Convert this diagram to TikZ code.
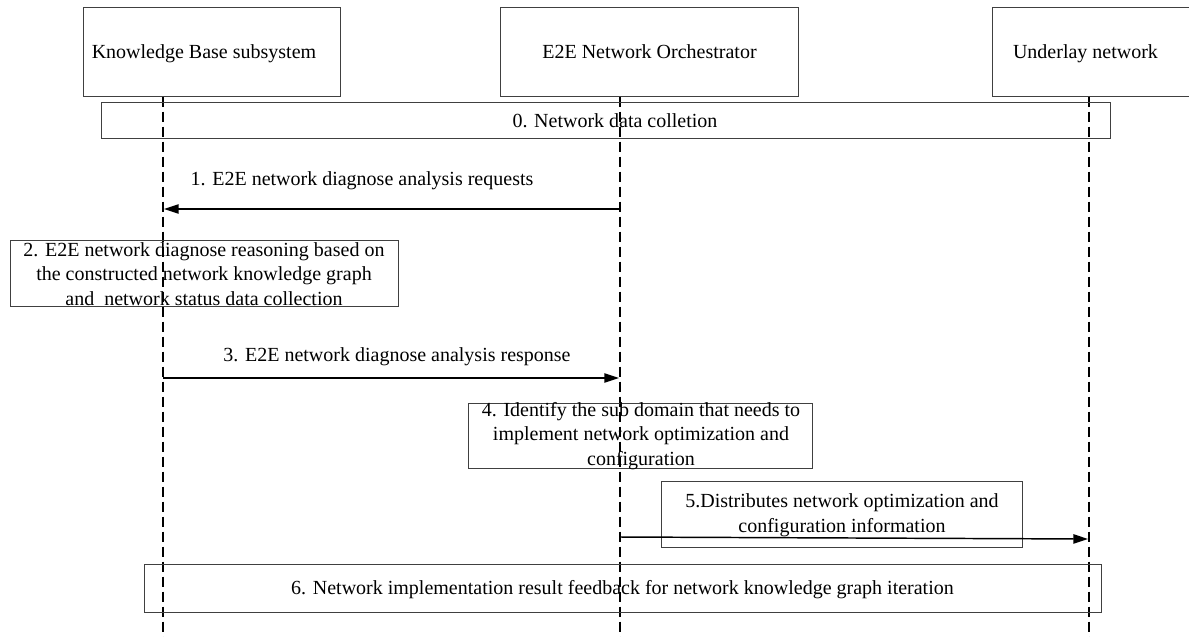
\documentclass[tikz,border=0pt]{standalone}
\usepackage{fontspec}
\setmainfont{Liberation Serif}
\usetikzlibrary{arrows.meta}
\tikzset{
  frame/.style={draw=black!75, line width=0.75pt, rectangle, inner sep=0pt},
  txt/.style={inner sep=0pt, align=center, font=\fontsize{15}{18.4}\selectfont},
  line1/.style={txt, text height=10.5pt, text depth=3.3pt},
  life/.style={draw=black, line width=1pt, dash pattern=on 7.5pt off 3.75pt},
  msg/.style={draw=black, line width=1.1pt, -{Triangle[length=11pt,width=7pt]}},
}
\begin{document}
\begin{tikzpicture}[x=0.75pt,y=-0.75pt]
\useasboundingbox (0,0) rectangle (1189,636);
\clip (0,0) rectangle (1189,636);
% headers
\node[frame, minimum width=257*0.75pt, minimum height=89*0.75pt] (kb) at (211.5,51.5) {};
\node[line1] (kbt) at (204,54) {Knowledge Base subsystem};
\node[frame, minimum width=298*0.75pt, minimum height=89*0.75pt] (e2e) at (649,51.5) {};
\node[line1] (e2et) at (649.5,54) {E2E Network Orchestrator};
\node[frame, minimum width=210*0.75pt, minimum height=89*0.75pt] (ul) at (1097,51.5) {};
\node[line1] (ult) at (1085.5,54) {Underlay network};
% lifelines
\coordinate (kbend) at (163,640);
\coordinate (e2eend) at (620,640);
\coordinate (ulend) at (1089,640);
\draw[life] (kb.south -| kbend) -- (kbend);
\draw[life] (e2e.south -| e2eend) -- (e2eend);
\draw[life] (ul.south -| ulend) -- (ulend);
% step 0
\node[frame, minimum width=1009*0.75pt, minimum height=36*0.75pt] (b0) at (605.5,120) {};
\node[line1] (t0) at (615,123) {0. Network data colletion};
% step 1
\coordinate (a1s) at (620,209);
\coordinate (a1e) at (164,209);
\draw[msg] (a1s) -- (a1e);
\node[line1] (t1) at (362,181) {1. E2E network diagnose analysis requests};
% step 2
\node[frame, minimum width=388*0.75pt, minimum height=66*0.75pt] (b2) at (204,273) {};
\node[txt] (t2) at (204,274) {2. E2E network diagnose reasoning based on\\the constructed network knowledge graph\\and\ \ network status data collection};
% step 3
\coordinate (a3s) at (163,378);
\coordinate (a3e) at (619,378);
\draw[msg] (a3s) -- (a3e);
\node[line1] (t3) at (397,357) {3. E2E network diagnose analysis response};
% step 4
\node[frame, minimum width=344*0.75pt, minimum height=65*0.75pt] (b4) at (640,435.5) {};
\node[txt] (t4) at (641,436) {4. Identify the sub domain that needs to\\implement network optimization and\\configuration};
% step 5
\node[frame, minimum width=361*0.75pt, minimum height=66*0.75pt] (b5) at (841.5,514) {};
\node[txt] (t5) at (842,515) {5.Distributes network optimization and\\configuration information};
\coordinate (a5s) at (620,537);
\coordinate (a5e) at (1088,539);
\draw[msg] (a5s) -- (a5e);
% step 6
\node[frame, minimum width=957*0.75pt, minimum height=48*0.75pt] (b6) at (622.5,588) {};
\node[line1] (t6) at (622.5,590) {6. Network implementation result feedback for network knowledge graph iteration};
\end{tikzpicture}
\end{document}
